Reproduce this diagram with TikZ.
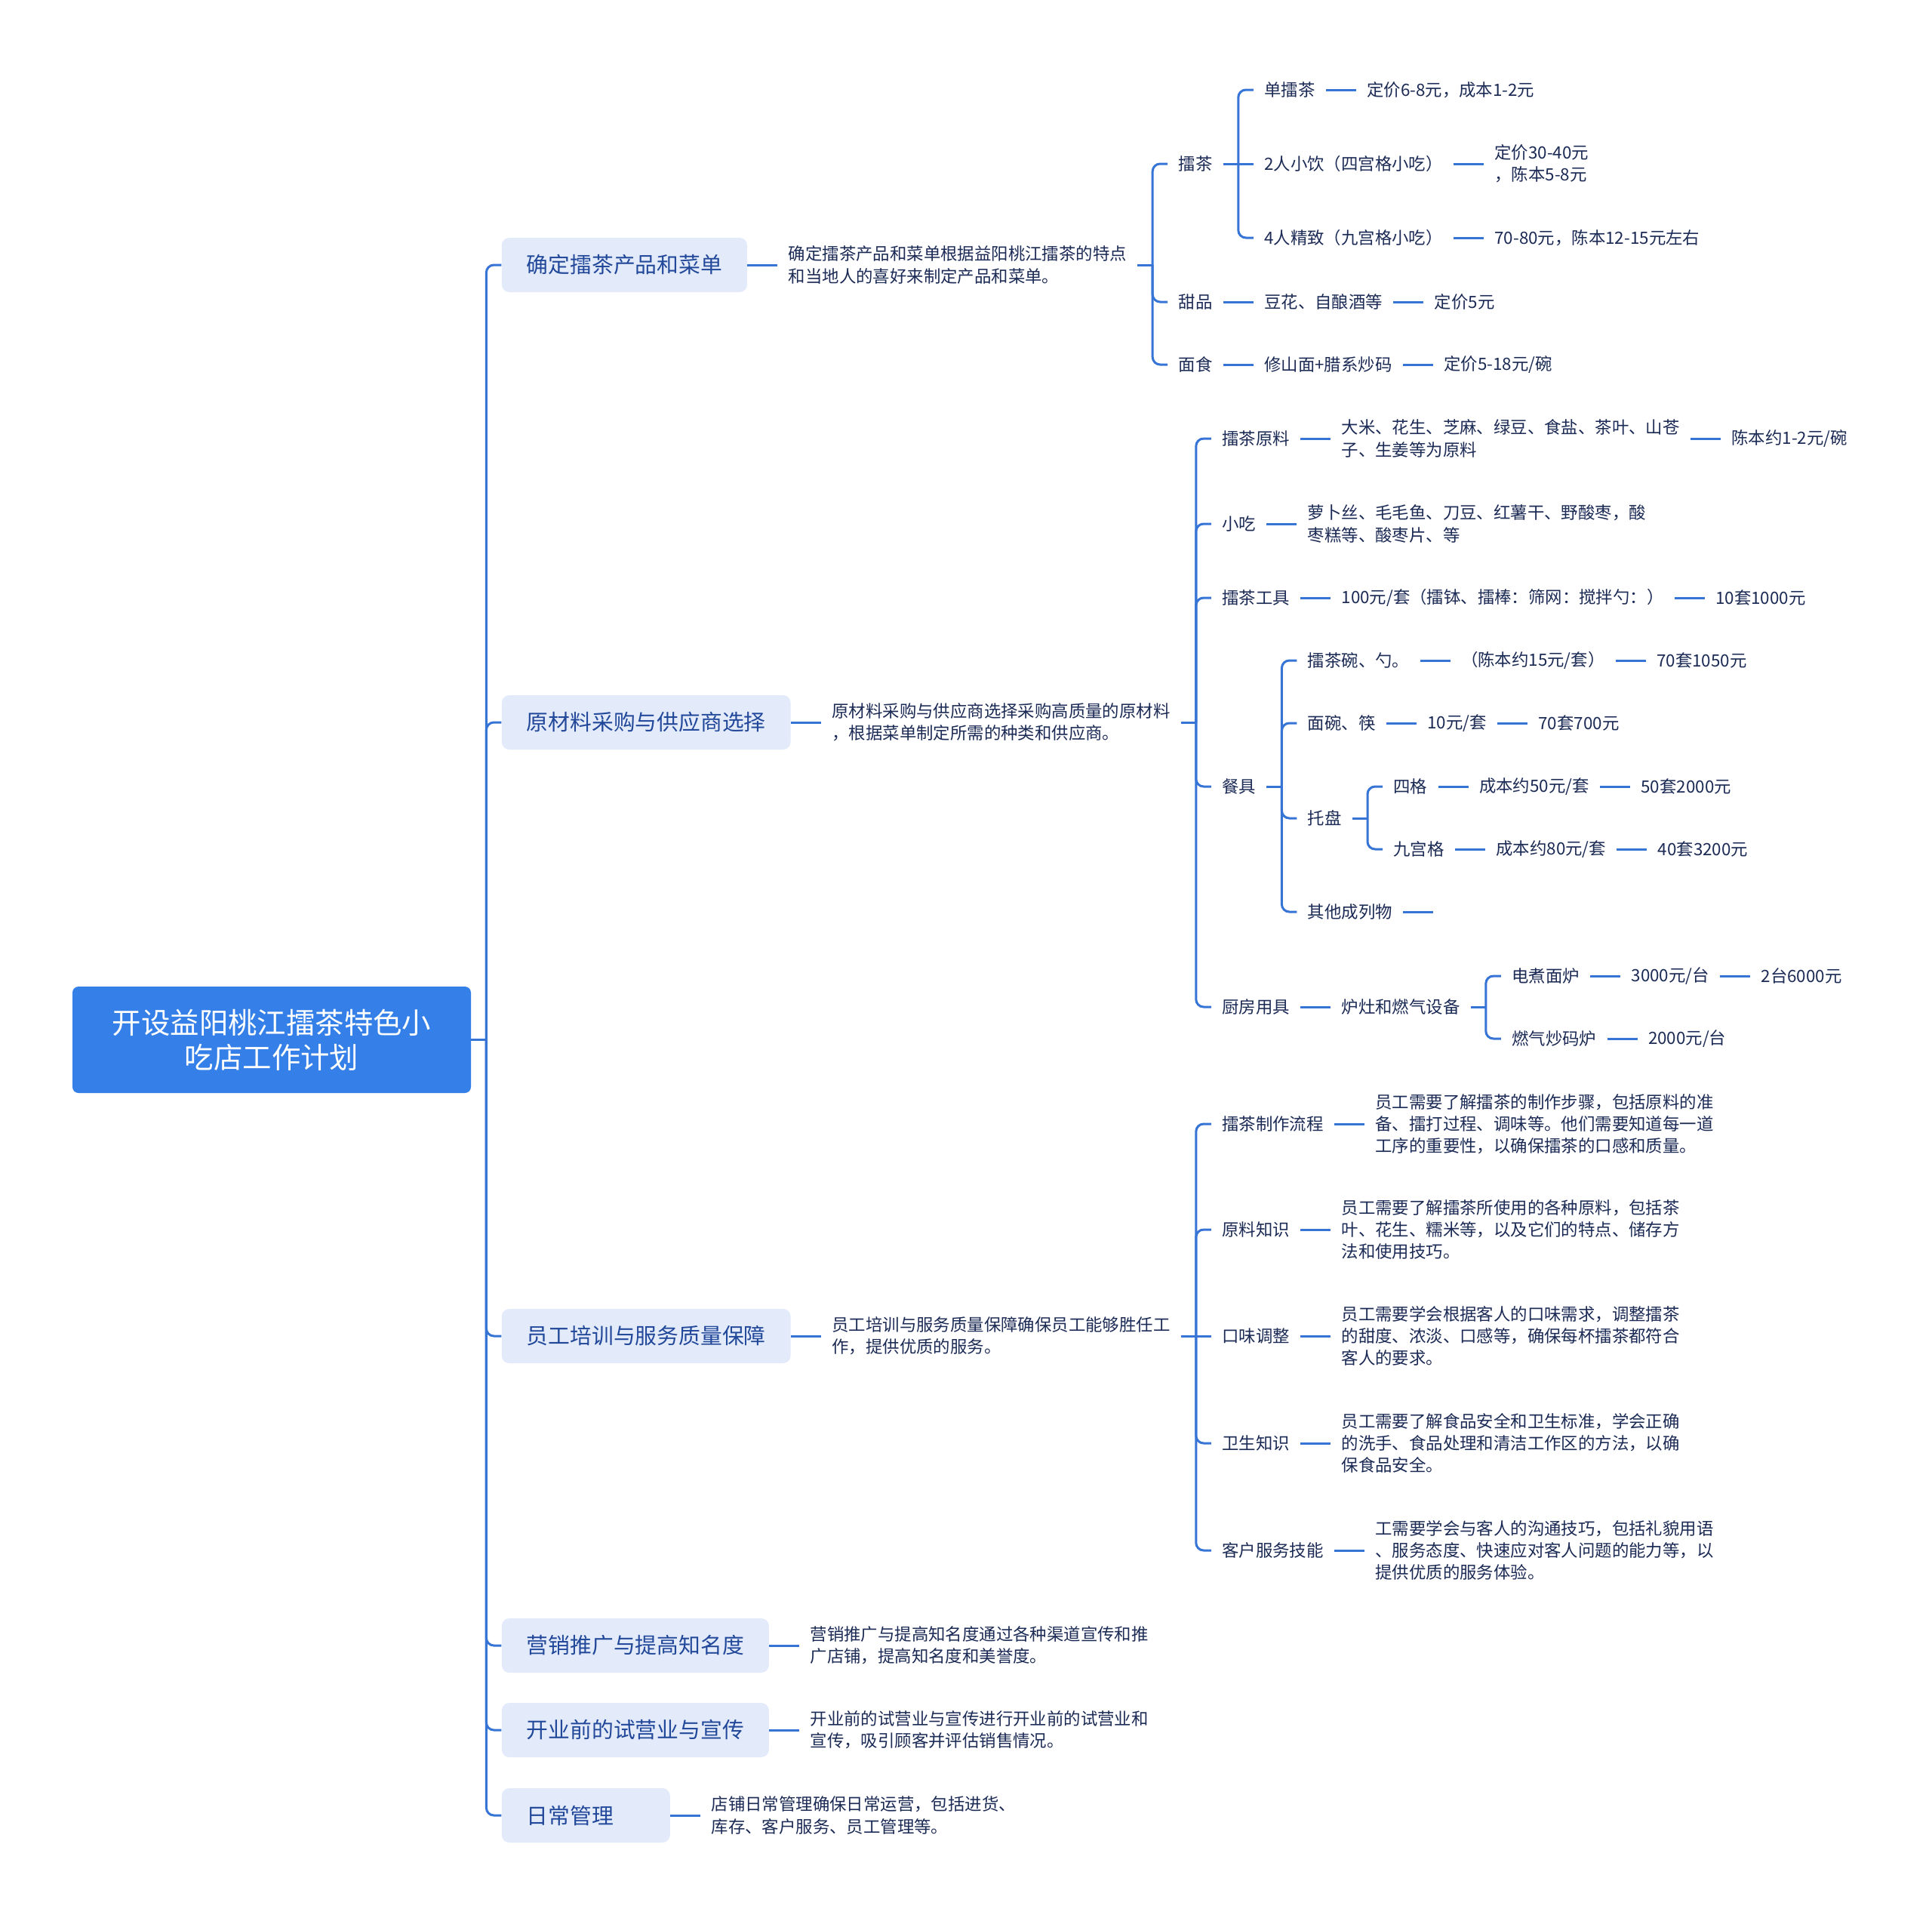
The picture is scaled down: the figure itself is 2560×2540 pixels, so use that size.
\documentclass[tikz,border=0pt]{standalone}
\usepackage{fontspec}
\setmainfont{Noto Sans CJK SC}
\usetikzlibrary{calc}
\definecolor{lnkc}{HTML}{3674D6}
\definecolor{rootc}{HTML}{3580E8}
\definecolor{lvfill}{HTML}{E3EBFB}
\definecolor{lvtext}{HTML}{22489A}
\definecolor{txtc}{HTML}{1C2B55}
\newcommand\mmlink[2]{%
  \draw[link] (#1.east) -- ++(10pt,0) coordinate (mmj);
  \draw[link,rounded corners=5pt] (mmj) |- (#2.west);}
% child on another row: bracket connector
\newcommand\mmkid[4]{%
  \node[txt,xshift=20pt] (#2) at (#1.east |- 0,#3) {#4};
  \mmlink{#1}{#2}}
% child on the same row: straight connector
\newcommand\mmnext[3]{%
  \node[txt,xshift=20pt] (#2) at (#1.east) {#3};
  \draw[link] (#1.east) -- (#2.west);}
\begin{document}
\begin{tikzpicture}[x=0.5pt,y=-0.5pt,
  link/.style={draw=lnkc,line width=1.5pt},
  rootbox/.style={fill=rootc,rounded corners=4pt,text=white,minimum width=264pt,minimum height=70.5pt,align=center,inner sep=0pt,font=\fontsize{19.2}{23}\selectfont},
  lvbox/.style={fill=lvfill,rounded corners=5pt,text=lvtext,minimum height=36pt,inner xsep=16.5pt,inner ysep=0pt,anchor=west,font=\fontsize{14.4}{17}\selectfont},
  txt/.style={text=txtc,inner xsep=7pt,inner ysep=2pt,align=left,anchor=west,font=\fontsize{11.2}{14.6}\selectfont},
]
\useasboundingbox (0,0) rectangle (2560,2540);
\fill[white] (0,0) rectangle (2560,2540);

\node[rootbox] (root) at (360,1377.5) {开设益阳桃江擂茶特色小\\吃店工作计划};

\node[lvbox,xshift=20pt] (b1) at (root.east |- 0,351) {确定擂茶产品和菜单};
\node[lvbox,xshift=20pt] (b2) at (root.east |- 0,957) {原材料采购与供应商选择};
\node[lvbox,xshift=20pt] (b3) at (root.east |- 0,1770) {员工培训与服务质量保障};
\node[lvbox,xshift=20pt] (b4) at (root.east |- 0,2180) {营销推广与提高知名度};
\node[lvbox,xshift=20pt] (b5) at (root.east |- 0,2292) {开业前的试营业与宣传};
\node[lvbox,xshift=20pt] (b6) at (root.east |- 0,2405) {\makebox[78.5pt][l]{日常管理}};
\mmlink{root}{b1}\mmlink{root}{b2}\mmlink{root}{b3}
\mmlink{root}{b4}\mmlink{root}{b5}\mmlink{root}{b6}

\mmnext{b1}{d1}{确定擂茶产品和菜单根据益阳桃江擂茶的特点\\和当地人的喜好来制定产品和菜单。}
\mmnext{b2}{d2}{原材料采购与供应商选择采购高质量的原材料\\，根据菜单制定所需的种类和供应商。}
\mmnext{b3}{d3}{员工培训与服务质量保障确保员工能够胜任工\\作，提供优质的服务。}
\mmnext{b4}{d4}{营销推广与提高知名度通过各种渠道宣传和推\\广店铺，提高知名度和美誉度。}
\mmnext{b5}{d5}{开业前的试营业与宣传进行开业前的试营业和\\宣传，吸引顾客并评估销售情况。}
\mmnext{b6}{d6}{店铺日常管理确保日常运营，包括进货、\\库存、客户服务、员工管理等。}

% section 1
\mmkid{d1}{a1}{217}{擂茶}
\mmkid{a1}{a11}{119}{单擂茶}
\mmnext{a11}{a111}{定价6-8元，成本1-2元}
\mmnext{a1}{a12}{2人小饮（四宫格小吃）}
\mmnext{a12}{a121}{定价30-40元\\，陈本5-8元}
\mmkid{a1}{a13}{315}{4人精致（九宫格小吃）}
\mmnext{a13}{a131}{70-80元，陈本12-15元左右}
\mmkid{d1}{a2}{400}{甜品}
\mmnext{a2}{a21}{豆花、自酿酒等}
\mmnext{a21}{a211}{定价5元}
\mmkid{d1}{a3}{483}{面食}
\mmnext{a3}{a31}{修山面+腊系炒码}
\mmnext{a31}{a311}{定价5-18元/碗}

% section 2
\mmkid{d2}{c1}{581}{擂茶原料}
\mmnext{c1}{c11}{大米、花生、芝麻、绿豆、食盐、茶叶、山苍\\子、生姜等为原料}
\mmnext{c11}{c111}{陈本约1-2元/碗}
\mmkid{d2}{c2}{694}{小吃}
\mmnext{c2}{c21}{萝卜丝、毛毛鱼、刀豆、红薯干、野酸枣，酸\\枣糕等、酸枣片、等}
\mmkid{d2}{c3}{792}{擂茶工具}
\mmnext{c3}{c31}{100元/套（擂钵、擂棒：筛网：搅拌勺：）}
\mmnext{c31}{c311}{10套1000元}
\mmkid{d2}{c4}{1042}{餐具}
\mmkid{c4}{c41}{875}{擂茶碗、勺。}
\mmnext{c41}{c411}{（陈本约15元/套）}
\mmnext{c411}{c4111}{70套1050元}
\mmkid{c4}{c42}{958}{面碗、筷}
\mmnext{c42}{c421}{10元/套}
\mmnext{c421}{c4211}{70套700元}
\mmkid{c4}{c43}{1084}{托盘}
\mmkid{c43}{c431}{1042}{四格}
\mmnext{c431}{c4311}{成本约50元/套}
\mmnext{c4311}{c43111}{50套2000元}
\mmkid{c43}{c432}{1125}{九宫格}
\mmnext{c432}{c4321}{成本约80元/套}
\mmnext{c4321}{c43211}{40套3200元}
\mmkid{c4}{c44}{1208}{其他成列物}
\coordinate (c44end) at ([xshift=20pt]c44.east);
\draw[link] (c44.east) -- (c44end);
\mmkid{d2}{c5}{1334}{厨房用具}
\mmnext{c5}{c51}{炉灶和燃气设备}
\mmkid{c51}{c511}{1293}{电煮面炉}
\mmnext{c511}{c5111}{3000元/台}
\mmnext{c5111}{c51111}{2台6000元}
\mmkid{c51}{c512}{1376}{燃气炒码炉}
\mmnext{c512}{c5121}{2000元/台}

% section 3
\mmkid{d3}{e1}{1489}{擂茶制作流程}
\mmnext{e1}{e11}{员工需要了解擂茶的制作步骤，包括原料的准\\备、擂打过程、调味等。他们需要知道每一道\\工序的重要性，以确保擂茶的口感和质量。}
\mmkid{d3}{e2}{1629}{原料知识}
\mmnext{e2}{e21}{员工需要了解擂茶所使用的各种原料，包括茶\\叶、花生、糯米等，以及它们的特点、储存方\\法和使用技巧。}
\mmnext{d3}{e3}{口味调整}
\mmnext{e3}{e31}{员工需要学会根据客人的口味需求，调整擂茶\\的甜度、浓淡、口感等，确保每杯擂茶都符合\\客人的要求。}
\mmkid{d3}{e4}{1912}{卫生知识}
\mmnext{e4}{e41}{员工需要了解食品安全和卫生标准，学会正确\\的洗手、食品处理和清洁工作区的方法，以确\\保食品安全。}
\mmkid{d3}{e5}{2054}{客户服务技能}
\mmnext{e5}{e51}{工需要学会与客人的沟通技巧，包括礼貌用语\\、服务态度、快速应对客人问题的能力等，以\\提供优质的服务体验。}
\end{tikzpicture}
\end{document}
